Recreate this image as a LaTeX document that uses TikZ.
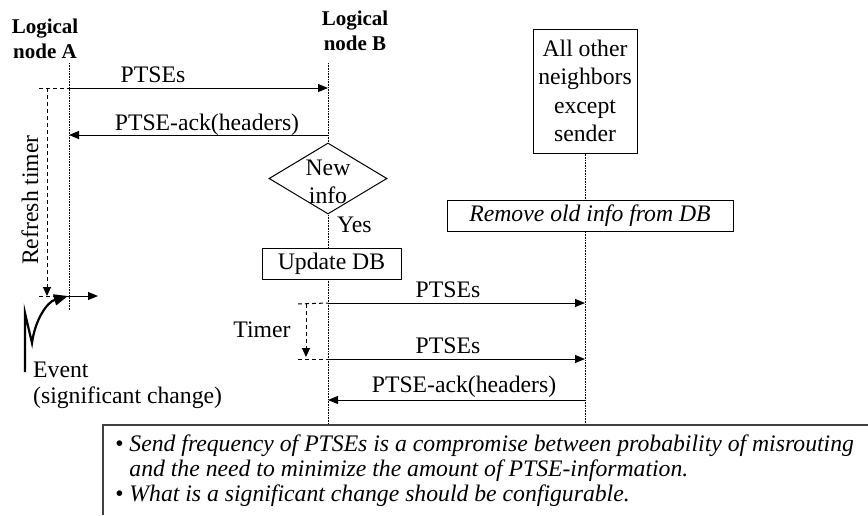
\documentclass[tikz,border=0pt]{standalone}
\usepackage{fontspec}
\setmainfont{Liberation Serif}
\usetikzlibrary{arrows.meta,shapes.geometric}
\begin{document}
\begin{tikzpicture}[x=1pt,y=-1pt,
  txt/.style={font=\fontsize{23.7}{28.5}\selectfont, inner sep=0pt},
  hdr/.style={font=\fontsize{21}{25}\selectfont\bfseries, inner sep=0pt},
  itx/.style={font=\fontsize{23.7}{25}\selectfont\itshape, inner sep=0pt},
  life/.style={line width=0.8pt, dash pattern=on 0.8pt off 0.8pt},
  msg/.style={line width=1pt, -{Triangle[length=10pt,width=8pt]}},
  tmr/.style={line width=1pt, dash pattern=on 4pt off 3pt},
  tmrarrow/.style={tmr, -{Triangle[length=9pt,width=8pt]}},
  box/.style={draw, line width=1pt, fill=white, txt, align=center},
]
\useasboundingbox (0,0) rectangle (868,515);

% headers
\node[hdr, anchor=base] (hA1) at (45,33) {Logical};
\node[hdr, anchor=base] (hA2) at (45,58) {node A};
\node[hdr, anchor=base] (hB1) at (355,25) {Logical};
\node[hdr, anchor=base] (hB2) at (355,50) {node B};

% lifeline coordinates
\coordinate (Atop) at (69,63);
\coordinate (Abot) at (69,310);
\coordinate (Btop) at (328,63);
\coordinate (Bbot) at (328,425);
\node[box, minimum width=104pt, minimum height=124pt, inner sep=0pt] (C) at (585,91) {All other\\neighbors\\except\\sender};
\coordinate (Cbot) at (585,425);

\draw[life] (Atop) -- (Abot);
\draw[life] (Btop) -- (Bbot);
\draw[life] (C.south) -- (Cbot);

% process nodes on lifelines
\node[draw, shape=diamond, line width=1pt, fill=white, minimum width=118pt, minimum height=71pt, inner sep=0pt] (D) at (328,178.5) {};
\node[txt, anchor=base] (Dt1) at (328,175) {New};
\node[txt, anchor=base] (Dt2) at (328,203) {info};
\node[txt, anchor=base west] (yes) at (337,232) {Yes};
\node[box, minimum width=139pt, minimum height=31pt, inner sep=0pt] (U) at (331.5,263.5) {Update DB};
\node[box, minimum width=286pt, minimum height=31pt, inner sep=0pt, font=\fontsize{23.7}{28.5}\selectfont\itshape] (R) at (590,215.5) {Remove old info from DB};

% messages
\coordinate (a1) at (69,88);  \coordinate (b1) at (328,88);
\coordinate (a2) at (69,135); \coordinate (b2) at (328,135);
\coordinate (b3) at (328,303); \coordinate (c3) at (585,303);
\coordinate (b4) at (328,359); \coordinate (c4) at (585,359);
\coordinate (b5) at (328,400); \coordinate (c5) at (585,400);
\draw[msg] (a1) -- (b1);
\draw[msg] (b2) -- (a2);
\draw[msg] (b3) -- (c3);
\draw[msg] (b4) -- (c4);
\draw[msg] (c5) -- (b5);
\node[txt, anchor=base] (m1) at (153,82) {PTSEs};
\node[txt, anchor=base] (m2) at (207,130) {PTSE-ack(headers)};
\node[txt, anchor=base] (m3) at (448,297) {PTSEs};
\node[txt, anchor=base] (m4) at (448,353) {PTSEs};
\node[txt, anchor=base] (m5) at (464,392) {PTSE-ack(headers)};

% refresh timer
\coordinate (rt0) at (39,88);
\coordinate (rt1) at (47,88);
\coordinate (rt2) at (47,296);
\coordinate (rt3) at (39,296);
\coordinate (a3) at (69,296);
\coordinate (out) at (98,296);
\draw[tmr] (rt0) -- (a1);
\draw[tmrarrow] (rt1) -- (rt2);
\draw[tmr] (rt3) -- (a3);
\draw[msg] (a3) -- (out);
\node[txt, rotate=90] (rtl) at (30,200) {Refresh timer};

% event
\coordinate (e0) at (25,372);
\coordinate (e1) at (25,313);
\coordinate (e2) at (32,343);
\coordinate (e3) at (68,296);
\draw[line width=2.2pt, -{Triangle[length=14pt,width=11pt]}] (e0) -- (e1) -- (e2) .. controls (35,320) and (47,302) .. (e3);
\node[txt, anchor=base west] (ev1) at (33,377) {Event};
\node[txt, anchor=base west] (ev2) at (33,403) {(significant change)};

% timer at B
\coordinate (t0) at (298,304);
\coordinate (t1) at (306,304);
\coordinate (t2) at (306,357);
\coordinate (t3) at (298,359);
\draw[tmr] (t0) -- (b3);
\draw[tmrarrow] (t1) -- (t2);
\draw[tmr] (t3) -- (b4);
\node[txt, anchor=base] (tl) at (262,337) {Timer};

% note box
\coordinate (n0) at (103,515);
\coordinate (n1) at (103,425);
\coordinate (n2) at (868,425);
\draw[line width=1.2pt, black!75] (n0) -- (n1) -- (n2);
\node[itx, anchor=base west] (nt1) at (115,451) {\textbullet\ Send frequency of PTSEs is a compromise between probability of misrouting};
\node[itx, anchor=base west] (nt2) at (115,476) {\phantom{\textbullet\ }and the need to minimize the amount of PTSE-information.};
\node[itx, anchor=base west] (nt3) at (115,501) {\textbullet\ What is a significant change should be configurable.};
\end{tikzpicture}
\end{document}
